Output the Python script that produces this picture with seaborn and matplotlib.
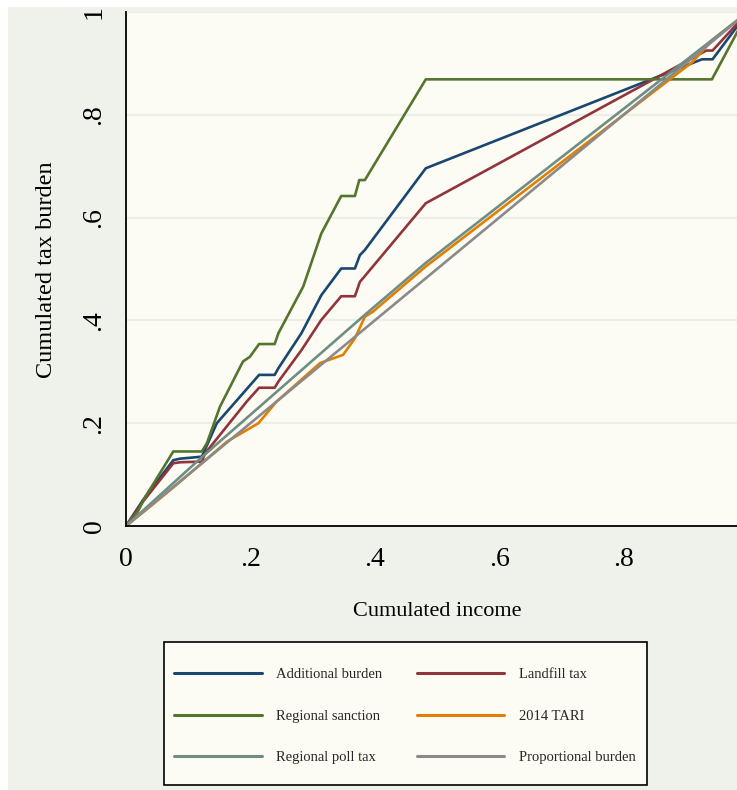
import matplotlib
matplotlib.use("Agg")
import matplotlib.pyplot as plt
from matplotlib.patches import Rectangle
from matplotlib.lines import Line2D
import seaborn as sns
import pandas as pd

# Concentration curves: cumulated income share vs cumulated tax burden share
additional_x = [0, .027, .076, .087, .114, .122, .146, .188, .214, .239, .245, .282,
                .314, .346, .368, .376, .384, .482, .926, .943, 1]
additional_y = [0, .050, .128, .131, .134, .135, .200, .258, .294, .294, .307, .375,
                .449, .501, .501, .527, .537, .696, .908, .908, 1]

landfill_x = [0, .027, .076, .087, .114, .122, .127, .194, .214, .239, .245, .282,
              .314, .346, .368, .376, .381, .482, .933, .943, 1]
landfill_y = [0, .047, .122, .124, .125, .125, .141, .242, .269, .269, .281, .342,
              .401, .447, .447, .475, .482, .628, .925, .925, 1]

sanction_x = [0, .019, .031, .043, .076, .122, .130, .151, .188, .199, .214, .239,
              .245, .285, .314, .346, .368, .375, .384, .482, .942, 1]
sanction_y = [0, .028, .057, .080, .145, .145, .161, .232, .320, .329, .354, .354,
              .375, .466, .569, .642, .642, .673, .673, .869, .869, 1]

tari_x = [0, .039, .071, .081, .119, .162, .213, .242, .312, .349, .368, .384, .397,
          .482, .911, .943, 1]
tari_y = [0, .038, .070, .080, .119, .164, .200, .242, .317, .333, .365, .407, .417,
          .505, .903, .946, 1]

poll_x = [0, .122, .387, .482, 1]
poll_y = [0, .134, .414, .512, 1]

proportional_x = [0, 1]
proportional_y = [0, 1]

series_names = ["Additional burden", "Landfill tax", "Regional sanction",
                "2014 TARI", "Regional poll tax", "Proportional burden"]
series_colors = ["#1a476f", "#90353b", "#55752f", "#e37e00", "#6e8e84", "#8a8a8a"]

y_ticks = [0, .2, .4, .6, .8, 1]
y_tick_labels = ["0", ".2", ".4", ".6", ".8", "1"]
x_ticks = [0, .2, .4, .6, .8]
x_tick_labels = ["0", ".2", ".4", ".6", ".8"]

frames = []
for name, xs, ys in zip(series_names,
                        [additional_x, landfill_x, sanction_x, tari_x, poll_x, proportional_x],
                        [additional_y, landfill_y, sanction_y, tari_y, poll_y, proportional_y]):
    frames.append(pd.DataFrame({"income": xs, "burden": ys, "series": name}))
df = pd.concat(frames, ignore_index=True)

sns.set_style("white")
plt.rcParams["font.family"] = ["Liberation Serif", "DejaVu Serif"]

W, H = 737, 790
fig = plt.figure(figsize=(W / 100, H / 100), dpi=100, facecolor="white")
fig.add_artist(Rectangle((8 / W, 0), 1, 1 - 7 / H, transform=fig.transFigure,
                         facecolor="#eff2ea", edgecolor="none", zorder=-10))

ax = fig.add_axes([126 / W, 1 - 526 / H, 622 / W, 514 / H])
ax.set_facecolor("#fcfcf4")

for gy in [.2, .4, .6, .8, 1.0]:
    ax.axhline(gy, color="#ebefe7", lw=1.6, zorder=0)

sns.lineplot(data=df, x="income", y="burden", hue="series", hue_order=series_names,
             palette=series_colors, estimator=None, sort=False, lw=1.9,
             legend=False, ax=ax)

ax.set_xlim(0, 1)
ax.set_ylim(0, 1)
ax.set_xticks(x_ticks)
ax.set_xticklabels(x_tick_labels)
ax.set_yticks(y_ticks)
ax.set_yticklabels(y_tick_labels, rotation=90, va="center")

for side in ["top", "right"]:
    ax.spines[side].set_visible(False)
for side in ["left", "bottom"]:
    ax.spines[side].set_color("black")
    ax.spines[side].set_linewidth(1.3)

ax.tick_params(axis="both", direction="out", length=10, width=1.3, color="black",
               labelsize=20, labelcolor="black")
ax.tick_params(axis="y", pad=4)
ax.tick_params(axis="x", pad=5)

ax.set_xlabel("Cumulated income", fontsize=16, color="black")
ax.xaxis.label.set_va("center")
ax.xaxis.set_label_coords(0.5, (526 - 612) / 514)
ax.set_ylabel("Cumulated tax burden", fontsize=17.5, color="black")
ax.yaxis.label.set_va("center")
ax.yaxis.set_label_coords((47 - 126) / 622, (526 - 270) / 514)

# legend box drawn as its own frame, entries placed inside it
fig.add_artist(Rectangle((164 / W, 1 - 785 / H), (647 - 164) / W, (785 - 642) / H,
                         transform=fig.transFigure, facecolor="#fcfcf4",
                         edgecolor="black", lw=1.2, zorder=1))
handles = [Line2D([0], [0], color=c, lw=2.2) for c in series_colors]
order = [0, 2, 4, 1, 3, 5]
leg = fig.legend([handles[i] for i in order], [series_names[i] for i in order],
                 ncol=2, loc="center", bbox_to_anchor=(405 / W, 1 - 716 / H),
                 fontsize=10.5, frameon=False, handlelength=6.0,
                 handletextpad=1.0, columnspacing=2.35, labelspacing=1.95,
                 borderpad=0.5)
leg.set_zorder(2)

fig.savefig("out.png", dpi=100, facecolor=fig.get_facecolor())
